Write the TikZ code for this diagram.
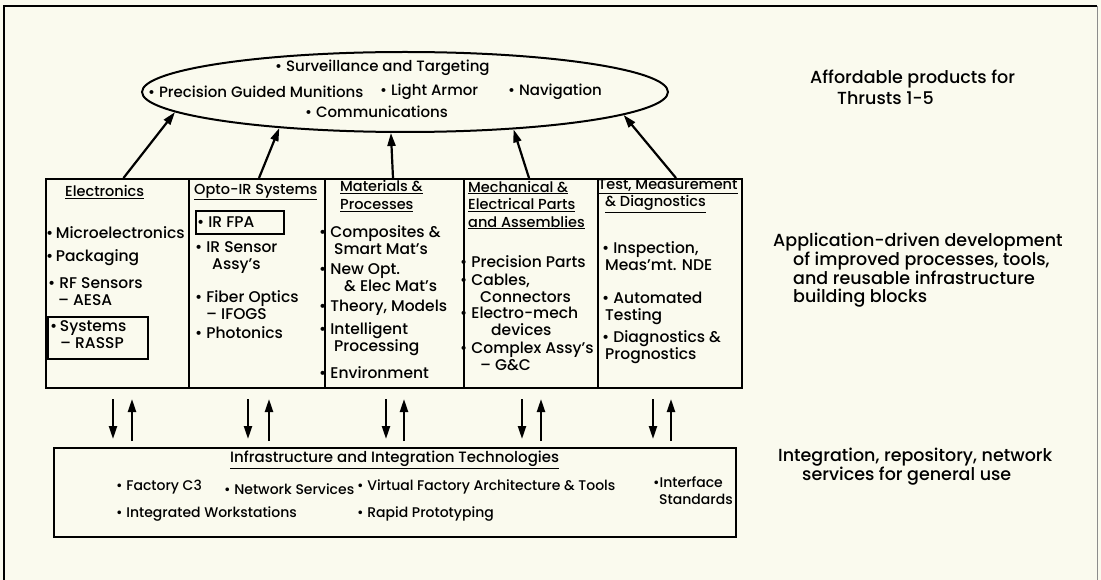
\documentclass[tikz,border=0pt]{standalone}
\usepackage{fontspec}
\setmainfont{Poppins Medium}        % geometric sans
\usepackage{tikz}
\usetikzlibrary{shapes.geometric,    % ellipse
           arrows.meta,
           positioning}
\definecolor{paper}{RGB}{250,250,238}
\newcommand{\bul}{\textbullet\ }

\begin{document}
\begin{tikzpicture}[x=1pt,y=-1pt,
  every node/.style={font=\fontsize{15.5}{17}\selectfont},
  txt/.style={inner sep=0, anchor=west, align=left},
  oval/.style={txt, font=\fontsize{15}{17}\selectfont},
  head/.style={txt, font=\fontsize{14.5}{17.5}\selectfont},
  side/.style={txt, font=\fontsize{17.5}{18}\selectfont},
  base/.style={txt, font=\fontsize{14}{17}\selectfont},
  col/.style={draw, line width=2pt, minimum height=209pt, anchor=north west, inner sep=0},
  tag/.style={draw, line width=1.6pt, anchor=north west, inner sep=0},
  up/.style={-{Triangle[length=13pt,width=8pt]}, line width=2.2pt}]
\fill[paper] (0,0) rectangle (1101,580);
\useasboundingbox (0,0) rectangle (1101,580);
\draw[line width=2pt] (4,580) -- (4,6) -- (1097,6);
\draw[line width=0.8pt, black!45] (1097,6) -- (1097,580);
% Produits
\node[draw, ellipse, line width=2pt, minimum width=526pt, minimum height=80pt, inner sep=0](prod)at(405,92){};
\node[oval](surv)at(275,68){\bul Surveillance and Targeting};
\node[oval](pgm)at(148,92){\bul Precision Guided Munitions};
\node[oval](armor)at(380,92){\bul Light Armor};
\node[oval](nav)at(508,92){\bul Navigation};
\node[oval](comm)at(305,112){\bul Communications};
\node[side, font=\fontsize{17.5}{21}\selectfont](rTop)at(810,87){Affordable products for\\\hspace*{27pt}Thrusts 1-5};
% Colonnes
\node[col, minimum width=143pt](elec)at(45,178){};
\node[col, minimum width=136pt](opto)at(188,178){};
\node[col, minimum width=139pt](mat)at(324,178){};
\node[col, minimum width=134pt](mech)at(463,178){};
\node[col, minimum width=144pt](test)at(597,178){};
\node[head](hElec)at(65,192){\underline{Electronics}};
\node[head](hOpto)at(194,192){\underline{Opto-IR Systems}};
\node[head](hMat)at(340,196){\underline{Materials \&}\\\underline{Processes}};
\node[head](hMech)at(468,205){\underline{Mechanical \&}\\\underline{Electrical Parts}\\\underline{and Assemblies}};
\node[head](hTest)at(598,196){\underline{Test, Measurement}\\\hspace*{7pt}\underline{\& Diagnostics}};
\node[txt](e1)at(46,233){\textbullet\,Microelectronics};
\node[txt](e2)at(46,258){\textbullet\,Packaging};
\node[txt](e3)at(48,292){\bul RF Sensors\\\hspace*{10pt}-- AESA};
\node[tag, minimum width=100pt, minimum height=42pt](sysbox)at(47,316){};
\node[txt](e4)at(50,335){\textbullet\,Systems\\\hspace*{10pt}-- RASSP};
\node[tag, minimum width=88pt, minimum height=23pt](fpabox)at(195,210){};
\node[txt](o1)at(197,222){\bul IR FPA};
\node[txt](o2)at(195,258){\bul IR Sensor\\\hspace*{17pt}Assy's};
\node[txt](o3)at(195,305){\bul Fiber Optics\\\hspace*{11pt}-- IFOGS};
\node[txt](o4)at(195,333){\bul Photonics};
\node[txt](m1)at(319,240){\bul Composites \&\\\hspace*{15pt}Smart Mat's};
\node[txt](m2)at(319,278){\bul New Opt.\\\hspace*{25pt}\& Elec Mat's};
\node[txt](m3)at(319,308){\bul Theory, Models};
\node[txt](m4)at(319,339){\bul Intelligent\\\hspace*{15pt}Processing};
\node[txt](m5)at(319,373){\bul Environment};
\node[txt](k1)at(460,262){\bul Precision Parts};
\node[txt](k2)at(460,288){\bul Cables,\\\hspace*{20pt}Connectors};
\node[txt](k3)at(460,321){\bul Electro-mech\\\hspace*{31pt}devices};
\node[txt](k4)at(460,356){\bul Complex Assy's\\\hspace*{20pt}-- G\&C};
\node[txt](t1)at(602,256){\bul Inspection,\\\hspace*{3pt}Meas'mt. NDE};
\node[txt](t2)at(602,308){\bul Automated\\\hspace*{3pt}Testing};
\node[txt](t3)at(602,347){\bul Diagnostics \&\\\hspace*{3pt}Prognostics};
\node[side](rMid)at(773,270){Application-driven development\\\hspace*{20pt}of improved processes, tools,\\\hspace*{20pt}and reusable infrastructure\\\hspace*{20pt}building blocks};
\draw[up]([xshift=6pt]elec.north)--(prod.185);
\draw[up]([xshift=2pt]opto.north)--(prod.196);
\draw[up]([xshift=-1.5pt]mat.north)--(prod.251);
\draw[up]([xshift=-2pt]mech.north)--(prod.341);
\draw[up]([xshift=6pt]test.north)--(prod.354);
% Infrastructure
\node[tag, line width=2pt, minimum width=682pt, minimum height=89pt](infra)at(53,447){};
\node[base, font=\fontsize{15}{17}\selectfont](iTitle)at(230,460){\underline{Infrastructure and Integration Technologies}};
\node[base](i1)at(116,487){\bul Factory C3};
\node[base](i2)at(224,489){\bul Network Services};
\node[base](i3)at(357,487){\bul Virtual Factory Architecture \& Tools};
\node[base, anchor=east, align=right](i4)at(733,491){\textbullet Interface\hspace*{10pt}\\Standards};
\node[base](i5)at(116,514){\bul Integrated Workstations};
\node[base](i6)at(357,514){\bul Rapid Prototyping};
\node[side, font=\fontsize{17.5}{19}\selectfont](rBot)at(778,467){Integration, repository, network\\\hspace*{24pt}services for general use};
\draw[up, shorten <=10pt, shorten >=8pt]([xshift=-4.5pt]elec.south)--([xshift=-4.5pt]elec.south|-infra.north);
\draw[up, shorten <=6pt, shorten >=10pt]([xshift=14.5pt]elec.south|-infra.north)--([xshift=14.5pt]elec.south);
\draw[up, shorten <=10pt, shorten >=8pt]([xshift=-9pt]opto.south)--([xshift=-9pt]opto.south|-infra.north);
\draw[up, shorten <=6pt, shorten >=10pt]([xshift=12pt]opto.south|-infra.north)--([xshift=12pt]opto.south);
\draw[up, shorten <=10pt, shorten >=8pt]([xshift=-8.5pt]mat.south)--([xshift=-8.5pt]mat.south|-infra.north);
\draw[up, shorten <=6pt, shorten >=10pt]([xshift=9.5pt]mat.south|-infra.north)--([xshift=9.5pt]mat.south);
\draw[up, shorten <=10pt, shorten >=8pt]([xshift=-9pt]mech.south)--([xshift=-9pt]mech.south|-infra.north);
\draw[up, shorten <=6pt, shorten >=10pt]([xshift=10pt]mech.south|-infra.north)--([xshift=10pt]mech.south);
\draw[up, shorten <=10pt, shorten >=8pt]([xshift=-17pt]test.south)--([xshift=-17pt]test.south|-infra.north);
\draw[up, shorten <=6pt, shorten >=10pt]([xshift=1pt]test.south|-infra.north)--([xshift=1pt]test.south);
\end{tikzpicture}
\end{document}
